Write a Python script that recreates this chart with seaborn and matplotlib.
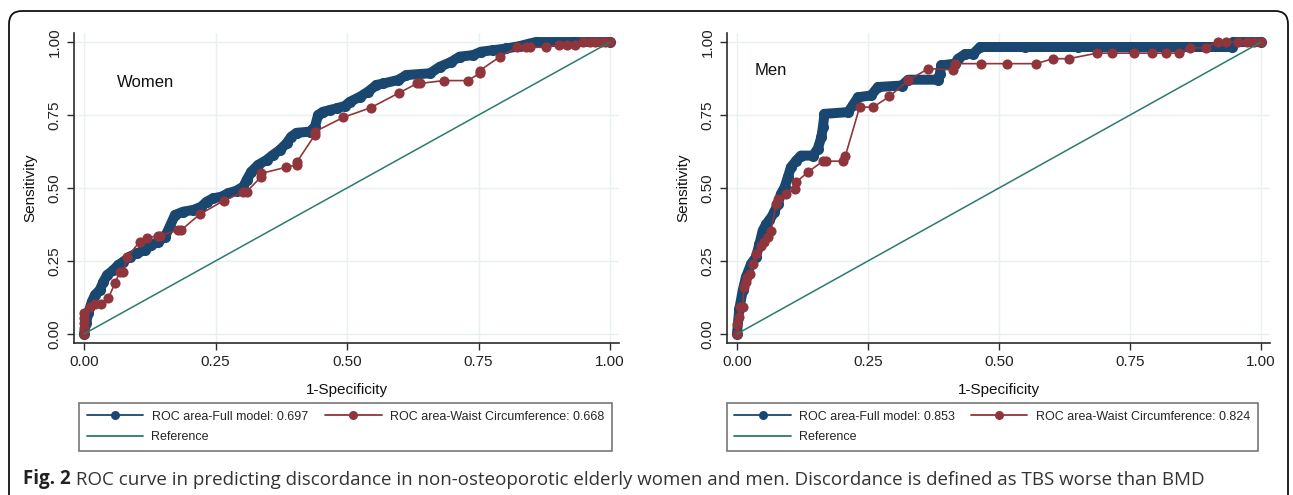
import numpy as np
import pandas as pd
import matplotlib.pyplot as plt
import seaborn as sns
from matplotlib.lines import Line2D
from matplotlib.patches import FancyBboxPatch

sns.set_theme(style='white')
plt.rcParams['font.family'] = ['Liberation Sans', 'DejaVu Sans']

NAVY = '#1a476f'; MAROON = '#90353b'; TEAL = '#2a7a6e'; GRID = '#e8f0f2'; AXC = '#2b2b2b'

# ------------------------------------------------------------
# ROC points
# ------------------------------------------------------------
women_full_fpr = [0, 0.004, 0.008, 0.015, 0.021, 0.03, 0.037, 0.044, 0.056, 0.065,
                  0.075, 0.087, 0.1, 0.116, 0.128, 0.141, 0.154, 0.163, 0.173, 0.189,
                  0.208, 0.223, 0.233, 0.246, 0.261, 0.274, 0.29, 0.303, 0.309, 0.318,
                  0.331, 0.347, 0.359, 0.372, 0.385, 0.394, 0.404, 0.429, 0.439, 0.445,
                  0.454, 0.467, 0.48, 0.496, 0.505, 0.524, 0.54, 0.556, 0.569, 0.597,
                  0.613, 0.658, 0.676, 0.698, 0.714, 0.739, 0.755, 0.777, 0.803, 0.828,
                  0.847, 0.86, 0.93, 1.0]
women_full_tpr = [0, 0.037, 0.071, 0.111, 0.134, 0.151, 0.179, 0.202, 0.219, 0.236,
                  0.248, 0.265, 0.276, 0.288, 0.305, 0.316, 0.333, 0.368, 0.408, 0.419,
                  0.425, 0.436, 0.453, 0.465, 0.47, 0.482, 0.491, 0.505, 0.527, 0.556,
                  0.579, 0.596, 0.613, 0.63, 0.653, 0.676, 0.689, 0.693, 0.71, 0.75,
                  0.761, 0.767, 0.773, 0.781, 0.795, 0.812, 0.83, 0.853, 0.858, 0.87,
                  0.887, 0.893, 0.915, 0.932, 0.95, 0.955, 0.967, 0.972, 0.978, 0.986,
                  0.995, 1.0, 1.0, 1.0]

women_waist_fpr = [0, 0, 0, 0, 0,
                   0.011, 0.021, 0.032, 0.046, 0.059, 0.068, 0.075, 0.082, 0.106, 0.119,
                   0.141, 0.144, 0.179, 0.185, 0.22, 0.266, 0.303, 0.309, 0.337, 0.337,
                   0.384, 0.404, 0.405, 0.439, 0.439, 0.493, 0.545, 0.599, 0.633, 0.638,
                   0.684, 0.73, 0.752, 0.752, 0.791, 0.823, 0.84, 0.848, 0.878, 0.902,
                   0.918, 0.933, 0.949, 0.962, 0.972, 0.982, 0.991, 1.0]
women_waist_tpr = [0, 0.019, 0.037, 0.054, 0.071,
                   0.094, 0.103, 0.103, 0.122, 0.174, 0.213, 0.213, 0.263, 0.316, 0.328,
                   0.337, 0.337, 0.356, 0.356, 0.41, 0.457, 0.487, 0.487, 0.539, 0.55,
                   0.571, 0.579, 0.59, 0.682, 0.693, 0.742, 0.775, 0.826, 0.858, 0.858,
                   0.868, 0.868, 0.893, 0.902, 0.95, 0.982, 0.982, 0.982, 0.982, 0.99,
                   0.99, 0.99, 1.0, 1.0, 1.0, 1.0, 1.0, 1.0]

men_full_fpr = [0, 0.0045, 0.011, 0.017, 0.027, 0.036, 0.043, 0.049, 0.056, 0.062,
                0.071, 0.078, 0.084, 0.091, 0.097, 0.103, 0.113, 0.122, 0.145, 0.154,
                0.161, 0.164, 0.167, 0.212, 0.221, 0.231, 0.256, 0.269, 0.314, 0.327,
                0.384, 0.387, 0.39, 0.416, 0.422, 0.435, 0.451, 0.464, 0.55, 0.65,
                0.75, 0.85, 0.945, 0.947, 1.0]
men_full_tpr = [0, 0.086, 0.149, 0.194, 0.24, 0.263, 0.309, 0.354, 0.377, 0.389,
                0.417, 0.446, 0.48, 0.503, 0.537, 0.571, 0.594, 0.611, 0.611, 0.634,
                0.674, 0.709, 0.754, 0.76, 0.783, 0.811, 0.817, 0.846, 0.851, 0.871,
                0.871, 0.891, 0.92, 0.926, 0.943, 0.958, 0.96, 0.983, 0.983, 0.983,
                0.983, 0.983, 0.983, 1.0, 1.0]

men_waist_fpr = [0, 0.001, 0.003, 0.006, 0.011, 0.013, 0.017, 0.02, 0.024, 0.03,
                 0.036, 0.046, 0.052, 0.059, 0.065, 0.075, 0.078, 0.094, 0.11, 0.113,
                 0.135, 0.164, 0.17, 0.202, 0.207, 0.234, 0.26, 0.291, 0.327, 0.365,
                 0.413, 0.416, 0.465, 0.515, 0.571, 0.603, 0.633, 0.687, 0.716, 0.757,
                 0.792, 0.818, 0.843, 0.864, 0.894, 0.917, 0.933, 0.955, 0.974, 0.987, 1.0]
men_waist_tpr = [0, 0.034, 0.057, 0.091, 0.091, 0.16, 0.177, 0.194, 0.206, 0.24,
                 0.274, 0.303, 0.314, 0.331, 0.354, 0.446, 0.463, 0.48, 0.497, 0.52,
                 0.554, 0.592, 0.592, 0.592, 0.611, 0.777, 0.777, 0.814, 0.869, 0.909,
                 0.905, 0.926, 0.926, 0.926, 0.926, 0.943, 0.943, 0.962, 0.962, 0.962,
                 0.962, 0.962, 0.962, 0.98, 0.98, 1.0, 1.0, 1.0, 1.0, 1.0, 1.0]

auc_full = {'Women': 0.697, 'Men': 0.853}
auc_waist = {'Women': 0.668, 'Men': 0.824}

ticks = [0, 0.25, 0.5, 0.75, 1.0]
tick_labels = ['0.00', '0.25', '0.50', '0.75', '1.00']

caption_bold = 'Fig. 2'
caption_rest = (' ROC curve in predicting discordance in non-osteoporotic elderly women and men. '
                'Discordance is defined as TBS worse than BMD')

# ------------------------------------------------------------
# FIGURE
# ------------------------------------------------------------
W, H = 1293, 495
fig = plt.figure(figsize=(W / 100, H / 100), dpi=100)
fig.patch.set_facecolor('white')

# outer rounded frame (bottom edge runs off the image)
frame = FancyBboxPatch((0.09, -0.5), 12.79, 5.34, boxstyle='round,pad=0,rounding_size=0.13',
                       transform=fig.dpi_scale_trans, fill=False, ec='#111111', lw=1.3)
fig.patches.append(frame)


def draw_panel(ax, fx, fy, wx, wy, name, name_xy, leg_left, leg_w):
    sns.lineplot(x=fx, y=fy, sort=False, estimator=None, ax=ax, color=NAVY, lw=7.2,
                 marker='o', markersize=8, markeredgewidth=0,
                 solid_joinstyle='round', solid_capstyle='round')
    sns.lineplot(x=wx, y=wy, sort=False, estimator=None, ax=ax, color=MAROON, lw=1.2,
                 marker='o', markersize=7.3, markeredgewidth=0)
    sns.lineplot(x=[0, 1], y=[0, 1], ax=ax, color=TEAL, lw=1.1)

    ax.set_xlim(-0.019, 1.017)
    ax.set_ylim(-0.031, 1.031)
    ax.set_xticks(ticks)
    ax.set_xticklabels(tick_labels)
    ax.set_yticks(ticks)
    ax.set_yticklabels(tick_labels, rotation=90, va='center')
    ax.grid(True, color=GRID, lw=1)
    ax.set_axisbelow(True)
    for s in ['top', 'right']:
        ax.spines[s].set_visible(False)
    for s in ['left', 'bottom']:
        ax.spines[s].set_color(AXC)
        ax.spines[s].set_linewidth(1.2)
    ax.tick_params(axis='both', bottom=True, left=True, direction='out', length=5,
                   width=1, color=AXC, labelsize=11, labelcolor='#222222', pad=4)
    ax.set_xlabel('1-Specificity', fontsize=11, labelpad=10, color='#111111')
    ax.set_ylabel('Sensitivity', fontsize=11, labelpad=7, color='#111111')
    ax.text(name_xy[0], name_xy[1], name, fontsize=12, ha='left', va='center', color='#111111')

    handles = [
        Line2D([], [], color=NAVY, lw=1.3, marker='o', ms=6.5, mew=0,
               label=f'ROC area-Full model: {auc_full[name]:.3f}'),
        Line2D([], [], color=TEAL, lw=1.3, label='Reference'),
        Line2D([], [], color=MAROON, lw=1.3, marker='o', ms=6.5, mew=0,
               label=f'ROC area-Waist Circumference: {auc_waist[name]:.3f}'),
    ]
    leg = ax.legend(handles=handles, loc='upper left',
                    bbox_to_anchor=(leg_left / W, (H - 453) / H, leg_w / W, 50 / H),
                    bbox_transform=fig.transFigure, mode='expand', ncol=2,
                    frameon=True, fancybox=False, edgecolor='#555555', fontsize=9,
                    handlelength=4.5, handletextpad=0.7, labelspacing=0.7,
                    borderpad=0.6, borderaxespad=0)
    leg.get_frame().set_linewidth(1.2)


ax_w = fig.add_axes([74 / W, 152 / H, 545 / W, 310 / H])
draw_panel(ax_w, women_full_fpr, women_full_tpr, women_waist_fpr, women_waist_tpr,
           'Women', (0.063, 0.863), 79, 533)

ax_m = fig.add_axes([727 / W, 152 / H, 543 / W, 310 / H])
draw_panel(ax_m, men_full_fpr, men_full_tpr, men_waist_fpr, men_waist_tpr,
           'Men', (0.034, 0.903), 727, 531)

# caption: bold figure number followed by the regular text
t1 = fig.text(23 / W, 11 / H, caption_bold, fontsize=13.5, fontweight='bold',
              family=['Open Sans', 'DejaVu Sans'], color='#222222', va='baseline', ha='left')
fig.add_artist(plt.Annotation(caption_rest, xy=(1, 0), xycoords=t1, xytext=(0, 0),
                              textcoords='offset points', fontsize=13.5,
                              family=['Open Sans', 'DejaVu Sans'], color='#333333',
                              va='bottom', ha='left'))

fig.savefig('out.png', dpi=100, facecolor='white')
